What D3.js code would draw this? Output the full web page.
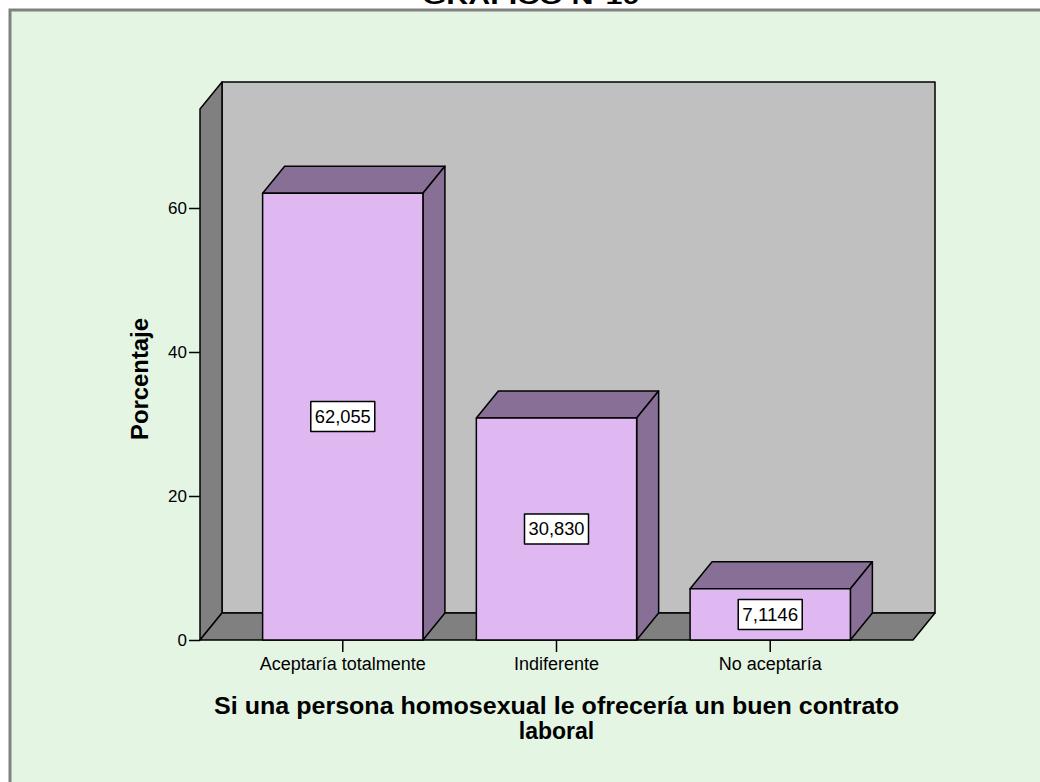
<!DOCTYPE html>
<html>
<head>
<meta charset="utf-8">
<script src="https://cdnjs.cloudflare.com/ajax/libs/d3/7.8.5/d3.min.js"></script>
<style>
  body { margin: 0; background: #fff; }
  svg text { font-family: Arial, "Liberation Sans", sans-serif; fill: #000; }
</style>
</head>
<body>
<svg id="chart" width="1040" height="782"></svg>
<script>
/* global d3 */

var categories  = ['Aceptaría totalmente', 'Indiferente', 'No aceptaría'];
var porcentajes = [62.055, 30.830, 7.1146];
var valueLabels = ['62,055', '30,830', '7,1146'];
var yTicks      = [0, 20, 40, 60];
var titleText   = 'GRAFICO N°10';
var xTitle      = ['Si una persona homosexual le ofrecería un buen contrato', 'laboral'];
var yTitle      = 'Porcentaje';

var svg = d3.select('svg#chart');

// depth of the fake 3d box
var DX = 22, DY = -27;

var x = d3.scaleBand()
  .domain(categories)
  .range([200, 913])
  .paddingInner(0.25)
  .paddingOuter(0.293)
;
var y = d3.scaleLinear().domain([0, 73.75]).range([640, 109]);

function pts(list) { return list.map(function (p) { return p.join(','); }).join(' '); }

// frame
svg.append('rect')
  .attr('x', 10).attr('y', 10).attr('width', 1100).attr('height', 900)
  .attr('fill', '#e4f5e4').attr('stroke', '#808080').attr('stroke-width', 3)
;

// title sits above the frame, mostly cut off like the source
svg.append('text')
  .attr('x', 531).attr('y', 4)
  .attr('text-anchor', 'middle')
  .attr('font-size', 22).attr('font-weight', 'bold')
  .attr('textLength', 217).attr('lengthAdjust', 'spacingAndGlyphs')
  .text(titleText)
;

var x0 = x.range()[0], x1 = x.range()[1];
var y0 = y(0), yTop = y(y.domain()[1]);

// back wall, side wall, floor
var walls = svg.append('g').attr('stroke', '#000').attr('stroke-width', 1.5).attr('stroke-linejoin', 'round');
walls.append('polygon')
  .attr('points', pts([[x0 + DX, yTop + DY], [x1 + DX, yTop + DY], [x1 + DX, y0 + DY], [x0 + DX, y0 + DY]]))
  .attr('fill', '#c0c0c0')
;
walls.append('polygon')
  .attr('points', pts([[x0, y0], [x0, yTop], [x0 + DX, yTop + DY], [x0 + DX, y0 + DY]]))
  .attr('fill', '#808080')
;
walls.append('polygon')
  .attr('points', pts([[x0, y0], [x1, y0], [x1 + DX, y0 + DY], [x0 + DX, y0 + DY]]))
  .attr('fill', '#808080')
;

// bars
var bars = svg.selectAll('.bar')
  .data(categories.map(function (c, i) { return { cat: c, value: porcentajes[i], label: valueLabels[i] }; }))
  .enter()
  .append('g').classed('bar', true)
    .attr('stroke', '#000').attr('stroke-width', 1.5).attr('stroke-linejoin', 'round')
;

bars.append('polygon')
  .attr('fill', '#876f95')
  .attr('points', function (d) {
    var l = x(d.cat), r = l + x.bandwidth(), t = y(d.value);
    return pts([[l, t], [r, t], [r + DX, t + DY], [l + DX, t + DY]]);
  })
;
bars.append('polygon')
  .attr('fill', '#876f95')
  .attr('points', function (d) {
    var r = x(d.cat) + x.bandwidth(), t = y(d.value);
    return pts([[r, t], [r, y0], [r + DX, y0 + DY], [r + DX, t + DY]]);
  })
;
bars.append('rect')
  .attr('fill', '#dfb8f2')
  .attr('x', function (d) { return x(d.cat); })
  .attr('y', function (d) { return y(d.value); })
  .attr('width', x.bandwidth())
  .attr('height', function (d) { return y0 - y(d.value); })
;

// value boxes
var boxes = bars.append('g')
  .attr('transform', function (d) {
    return 'translate(' + (x(d.cat) + x.bandwidth() / 2) + ',' + ((y(d.value) + y0) / 2) + ')';
  })
;
boxes.append('rect')
  .attr('x', -32).attr('y', -15).attr('width', 64).attr('height', 30)
  .attr('fill', '#fff').attr('stroke', '#000').attr('stroke-width', 1.5)
;
boxes.append('text')
  .attr('stroke', 'none')
  .attr('text-anchor', 'middle').attr('dy', '0.36em')
  .attr('font-size', 18)
  .attr('textLength', 56).attr('lengthAdjust', 'spacingAndGlyphs')
  .text(function (d) { return d.label; })
;

// axes
var yAxis = svg.append('g')
  .attr('transform', 'translate(' + x0 + ',0)')
  .call(d3.axisLeft(y).tickValues(yTicks).tickSize(11).tickPadding(2).tickFormat(d3.format('d')))
;
var xAxis = svg.append('g')
  .attr('transform', 'translate(0,' + y0 + ')')
  .call(d3.axisBottom(x).tickSize(12).tickPadding(5))
;
[yAxis, xAxis].forEach(function (ax) {
  ax.select('.domain').remove();
  ax.selectAll('line').attr('stroke', '#000').attr('stroke-width', 1.5);
  ax.selectAll('text').attr('font-size', 17).attr('font-family', 'Arial, "Liberation Sans", sans-serif');
});
xAxis.selectAll('text').attr('font-size', 18);

// axis titles
svg.append('text')
  .attr('transform', 'translate(148,379) rotate(-90)')
  .attr('text-anchor', 'middle')
  .attr('font-size', 23).attr('font-weight', 'bold')
  .attr('textLength', 122).attr('lengthAdjust', 'spacingAndGlyphs')
  .text(yTitle)
;

svg.append('text')
  .attr('x', (x0 + x1) / 2).attr('y', 714)
  .attr('text-anchor', 'middle')
  .attr('font-size', 23).attr('font-weight', 'bold')
  .attr('textLength', 685).attr('lengthAdjust', 'spacingAndGlyphs')
  .text(xTitle[0])
;
svg.append('text')
  .attr('x', (x0 + x1) / 2).attr('y', 739)
  .attr('text-anchor', 'middle')
  .attr('font-size', 23).attr('font-weight', 'bold')
  .text(xTitle[1])
;
</script>
</body>
</html>
